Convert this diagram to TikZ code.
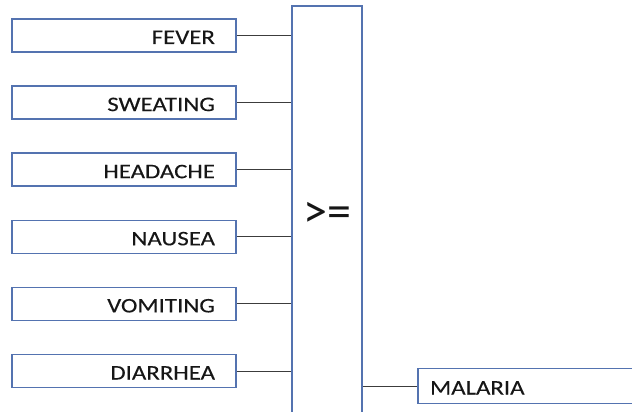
\documentclass[tikz,border=0pt]{standalone}
\usepackage{fontspec}
\newfontfamily\labelfont[FakeStretch=1.2,FakeBold=0.15]{Carlito}
\newfontfamily\gatefont{Carlito}
\usetikzlibrary{positioning}

\definecolor{boxblue}{RGB}{84,115,176}
\definecolor{inkgray}{RGB}{22,22,22}
\definecolor{wiregray}{RGB}{60,60,60}

\tikzset{
  symbox/.style={draw=boxblue, line width=1.5pt, fill=white, rectangle,
    minimum width=224pt, minimum height=33pt, inner xsep=0pt,
    text width=182pt, align=right, text height=17pt, text depth=0pt,
    font=\labelfont\fontsize{20.7}{20.7}\selectfont, text=inkgray},
  gatebox/.style={draw=boxblue, line width=1.5pt, fill=white, rectangle,
    minimum width=70pt, minimum height=418pt,
    font=\gatefont\fontsize{48}{48}\selectfont, text=inkgray},
  resultbox/.style={draw=boxblue, line width=1.5pt, fill=white, rectangle,
    minimum width=232pt, minimum height=35pt, inner xsep=0pt,
    text width=208pt, align=left, text height=17pt, text depth=0pt,
    font=\labelfont\fontsize{20.7}{20.7}\selectfont, text=inkgray},
  wire/.style={draw=wiregray, line width=0.9pt}
}

\begin{document}
\begin{tikzpicture}[x=1pt, y=-1pt]
  \useasboundingbox (0,0) rectangle (632,412);
  \clip (0,0) rectangle (632,412);
  % symptoms
  \foreach \sym [count=\i from 0] in {FEVER,SWEATING,HEADACHE,NAUSEA,VOMITING,DIARRHEA}
    \node[symbox] (s\i) at (124, 35.5+67.1*\i) {\sym};
  % comparison block
  \node[gatebox] (gate) at (327,215) {>=};
  % result
  \node[resultbox] (malaria) at (534,386) {MALARIA};
  % connectors
  \foreach \i in {0,...,5}
    \draw[wire] (s\i.east) -- (s\i.east -| gate.west);
  \draw[wire] (gate.east |- malaria.west) -- (malaria.west);
\end{tikzpicture}
\end{document}
